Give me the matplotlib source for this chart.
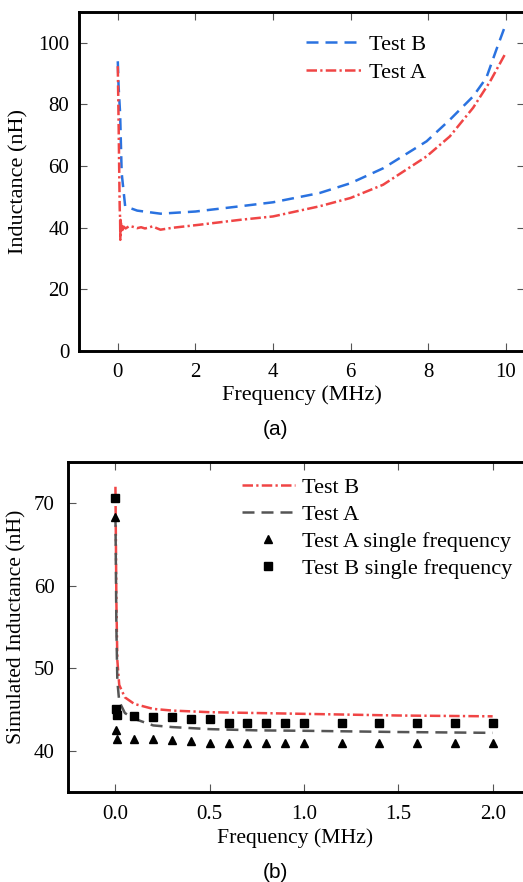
import numpy as np
import matplotlib

matplotlib.use("Agg")
import matplotlib.pyplot as plt

plt.rcParams["font.family"] = ["Liberation Serif", "DejaVu Serif"]

# ---- panel (a): measured inductance ----
freq_b = [0.0, 0.02, 0.06, 0.1, 0.19, 0.5, 1.1, 2.0, 3.15, 4.0, 5.2, 6.0, 6.85,
          7.96, 8.56, 9.16, 9.5, 9.76, 10.0]
ind_b = [94.0, 86.0, 77.0, 57.7, 46.9, 45.5, 44.5, 45.2, 46.9, 48.2, 51.2, 54.4,
         59.3, 68.0, 75.0, 82.6, 88.6, 97.8, 106.0]

freq_a = [0.0, 0.02, 0.04, 0.05, 0.06, 0.065, 0.07, 0.075, 0.08, 0.09, 0.1, 0.12,
          0.15, 0.2, 0.3, 0.4, 0.5, 0.6, 0.7, 0.8, 0.9, 1.0, 1.1, 1.4, 2.1,
          3.15, 4.0, 5.2, 6.0, 6.84, 7.96, 8.56, 9.16, 9.6, 10.0]
ind_a = [92.4, 75.0, 55.0, 46.0, 43.0, 36.0, 42.5, 38.5, 41.5, 39.0, 40.5, 39.2,
         40.3, 39.7, 40.5, 40.2, 39.8, 40.1, 39.7, 40.0, 40.4, 39.8, 39.3, 39.9,
         40.9, 42.5, 43.6, 46.9, 49.6, 53.9, 63.1, 69.6, 78.9, 87.5, 96.7]

# ---- panel (b): simulated inductance ----
sim_freq = [0.0, 0.005, 0.01, 0.02, 0.05, 0.1, 0.2, 0.3, 0.5, 0.75, 1.0, 1.5, 2.0]
sim_b = [72.0, 58.0, 51.0, 48.0, 46.5, 45.7, 45.1, 44.9, 44.7, 44.6, 44.5, 44.3, 44.2]
sim_a = [68.6, 55.0, 48.5, 46.0, 44.6, 43.9, 43.1, 42.9, 42.65, 42.5, 42.45, 42.3, 42.2]

sf_freq = [0.0, 0.001, 0.01, 0.1, 0.2, 0.3, 0.4, 0.5, 0.6, 0.7, 0.8, 0.9, 1.0,
           1.2, 1.4, 1.6, 1.8, 2.0]
sf_a = [68.3, 42.6, 41.4, 41.4, 41.4, 41.3, 41.2, 41.0, 41.0, 41.0, 41.0, 41.0,
        41.0, 41.0, 41.0, 41.0, 41.0, 41.0]
sf_b = [70.6, 45.1, 44.4, 44.3, 44.1, 44.1, 43.9, 43.9, 43.4, 43.4, 43.4, 43.4,
        43.4, 43.4, 43.4, 43.4, 43.4, 43.4]

BLUE = "#2a72e0"
RED = "#f04545"
GRAY = "#555555"
DASH = (4.8, 2.8)
DASHDOT = (4.2, 1.3, 0.9, 1.3)

W, H = 523, 882
fig = plt.figure(figsize=(W / 100, H / 100), dpi=100)


def style_axes(ax, ypad):
    for s in ax.spines.values():
        s.set_linewidth(2.1)
    ax.tick_params(direction="in", length=6, width=0.8, color="#555555",
                   top=True, right=True, labelsize=15)
    ax.tick_params(axis="x", pad=9)
    ax.tick_params(axis="y", pad=ypad)


# axes placed by pixel edges
ax1 = fig.add_axes([79 / W, 1 - 350.7 / H, (525.1 - 79) / W, (350.7 - 12) / H])
ax1.plot(freq_b, ind_b, color=BLUE, lw=1.8, dashes=DASH, label="Test B")
ax1.plot(freq_a, ind_a, color=RED, lw=1.8, dashes=DASHDOT, label="Test A")
ax1.set_xlim(-1, 10.5)
ax1.set_ylim(0, 110)
ax1.set_xticks([0, 2, 4, 6, 8, 10])
ax1.set_yticks([0, 20, 40, 60, 80, 100])
style_axes(ax1, 7)
ax1.set_xlabel("Frequency (MHz)", fontsize=16, labelpad=2)
ax1.set_ylabel("Inductance (nH)", fontsize=16, labelpad=7)
ax1.legend(loc="upper left", bbox_to_anchor=(0.465, 0.993), frameon=False,
           fontsize=16, handlelength=2.5, handletextpad=0.3, labelspacing=0.33)

ax2 = fig.add_axes([68.3 / W, 1 - 792.3 / H, (539.8 - 68.3) / W, (792.3 - 462) / H])
ax2.plot(sim_freq, sim_b, color=RED, lw=1.8, dashes=DASHDOT, label="Test B")
ax2.plot(sim_freq, sim_a, color=GRAY, lw=1.8, dashes=DASH, label="Test A")
ax2.plot(sf_freq, sf_a, ls="none", marker="^", ms=6, color="black",
         label="Test A single frequency")
ax2.plot(sf_freq, sf_b, ls="none", marker="s", ms=5.5, color="black",
         label="Test B single frequency")
ax2.set_xlim(-0.25, 2.25)
ax2.set_ylim(35, 75)
ax2.set_xticks([0.0, 0.5, 1.0, 1.5, 2.0])
ax2.set_xticklabels(["0.0", "0.5", "1.0", "1.5", "2.0"])
ax2.set_yticks([40, 50, 60, 70])
style_axes(ax2, 10)
ax2.set_xlabel("Frequency (MHz)", fontsize=15.6)
ax2.xaxis.set_label_coords(0.481, -0.108)
ax2.set_ylabel("Simulated Inductance (nH)", fontsize=15.6, labelpad=5)
ax2.legend(loc="upper left", bbox_to_anchor=(0.325, 1.015), frameon=False,
           fontsize=16, handlelength=2.4, handletextpad=0.3, labelspacing=0.3)

fig.text(275 / W, 1 - 430 / H, "(a)", ha="center", va="center", fontsize=15,
         family="Liberation Sans")
fig.text(275 / W, 1 - 873 / H, "(b)", ha="center", va="center", fontsize=15,
         family="Liberation Sans")

fig.savefig("out.png", dpi=100)
